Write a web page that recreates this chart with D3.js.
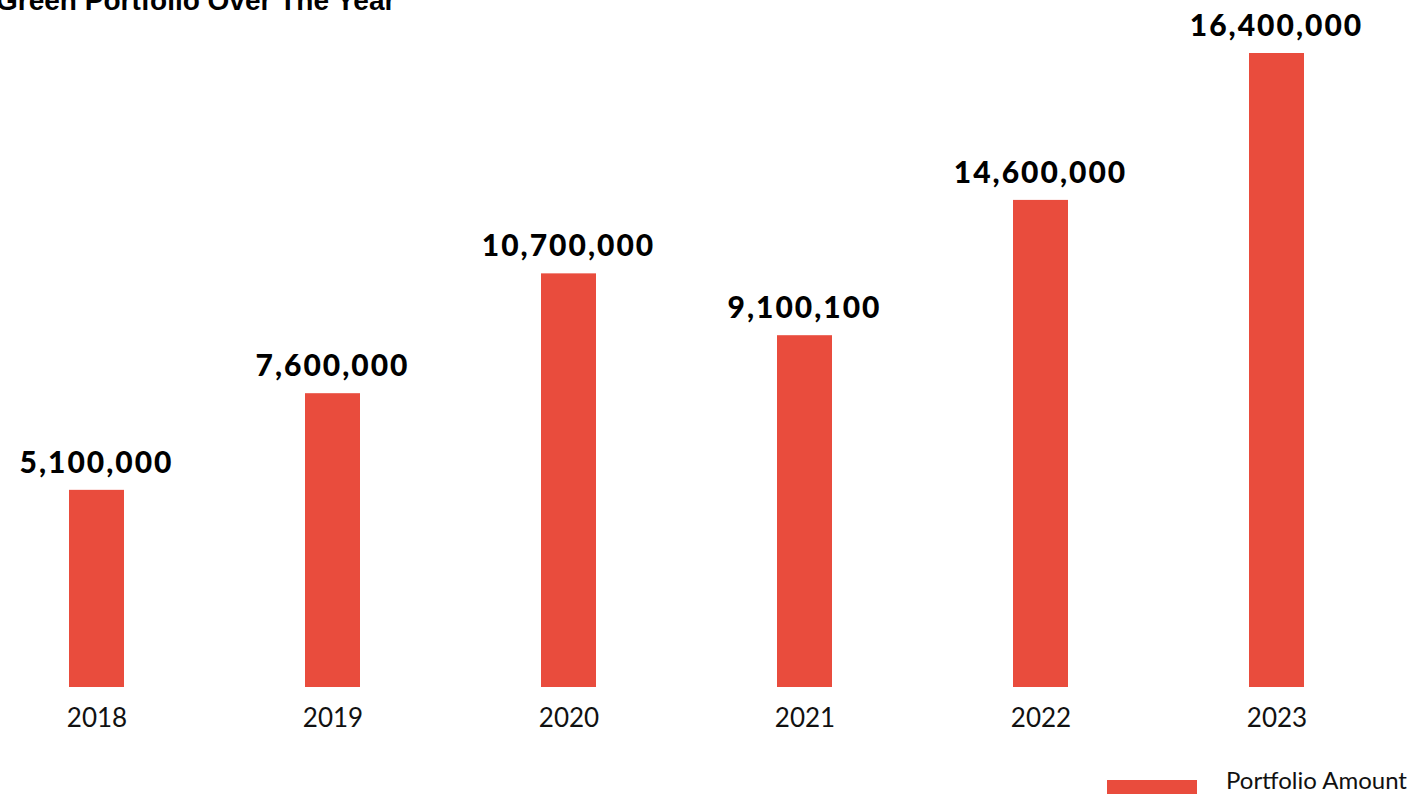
<!DOCTYPE html>
<html>
<head>
<meta charset="utf-8">
<script src="https://cdn.jsdelivr.net/npm/d3@7"></script>
<style>
  html, body { margin: 0; padding: 0; background: #fff; overflow: hidden; }
  svg { display: block; }
</style>
</head>
<body>
<svg id="chart" width="1424" height="794"></svg>
<script>
// ---- data ----
const years = ["2018", "2019", "2020", "2021", "2022", "2023"];
const portfolioAmount = [5100000, 7600000, 10700000, 9100100, 12600000, 16400000];
const valueLabels = ["5,100,000", "7,600,000", "10,700,000", "9,100,100", "14,600,000", "16,400,000"];
const seriesName = "Portfolio Amount";
const chartTitle = "Green Portfolio Over The Year";

const barColor = "#E94C3D";
const svg = d3.select("#chart");

const x = d3.scalePoint().domain(years).range([96.5, 1276.5]);
const y = d3.scaleLinear().domain([0, 16400000]).range([687, 53]);
const barW = 55;

// title (partly above the page edge, as in the reference)
svg.append("text")
  .attr("x", -4).attr("y", 10)
  .attr("font-family", "'Liberation Sans', Arial, sans-serif")
  .attr("font-weight", "bold")
  .attr("font-size", 28)
  .attr("fill", "#000")
  .text(chartTitle);

// bars
svg.selectAll("rect.bar").data(years).enter().append("rect")
  .attr("class", "bar")
  .attr("x", d => x(d) - barW / 2)
  .attr("width", barW)
  .attr("y", (d, i) => y(portfolioAmount[i]))
  .attr("height", (d, i) => y(0) - y(portfolioAmount[i]))
  .attr("fill", barColor);

// value labels
svg.selectAll("text.val").data(years).enter().append("text")
  .attr("class", "val")
  .attr("x", d => x(d))
  .attr("y", (d, i) => y(portfolioAmount[i]) - 17)
  .attr("text-anchor", "middle")
  .attr("font-family", "Lato, 'Open Sans', sans-serif")
  .attr("font-weight", 900)
  .attr("font-size", 30)
  .attr("letter-spacing", 2)
  .attr("fill", "#000")
  .text((d, i) => valueLabels[i]);

// x axis labels
const xAxis = d3.axisBottom(x).tickSize(0).tickPadding(0);
const gx = svg.append("g").attr("transform", "translate(0,708)").call(xAxis);
gx.select(".domain").remove();
gx.selectAll("text")
  .attr("dy", 0)
  .attr("y", 19)
  .attr("font-family", "Lato, 'Open Sans', sans-serif")
  .attr("font-size", 26)
  .attr("fill", "#111");

// legend
svg.append("rect")
  .attr("x", 1107).attr("y", 780)
  .attr("width", 90).attr("height", 16)
  .attr("fill", barColor);
svg.append("text")
  .attr("x", 1226).attr("y", 789)
  .attr("font-family", "Lato, 'Open Sans', sans-serif")
  .attr("font-size", 24)
  .attr("fill", "#111")
  .text(seriesName);
</script>
</body>
</html>
